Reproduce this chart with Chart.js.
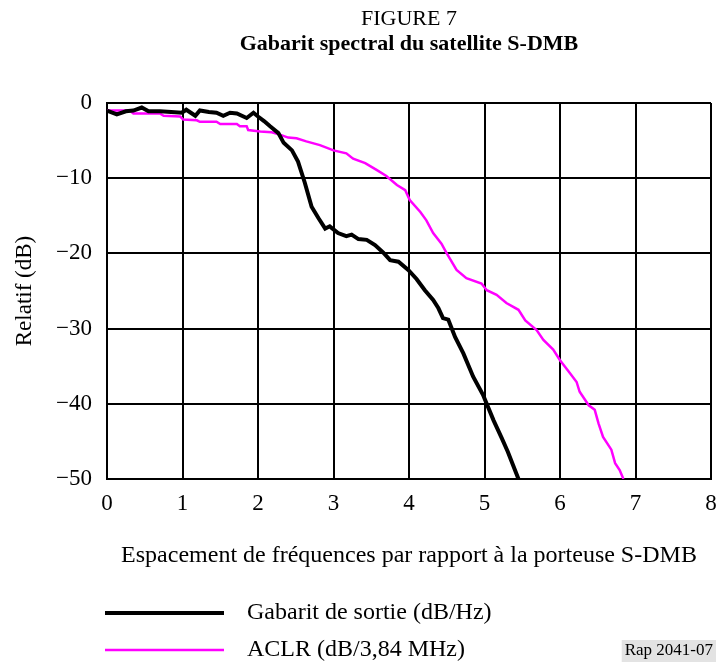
<!DOCTYPE html>
<html>
<head>
<meta charset="utf-8">
<script src="https://cdn.jsdelivr.net/npm/chart.js@4.4.1/dist/chart.umd.min.js"></script>
<style>
  html, body { margin: 0; padding: 0; background: #fff; }
  #wrap { width: 717px; height: 664px; }
</style>
</head>
<body>
<div id="wrap"><canvas id="maskChart" width="717" height="664"></canvas></div>
<script>
// frequency offsets (x) and relative levels (dB)
let gabaritFreq = [0, 0.13, 0.25, 0.35, 0.46, 0.55, 0.7, 0.85, 0.99, 1.05,
    1.17, 1.23, 1.35, 1.45, 1.54, 1.63, 1.72, 1.85, 1.94, 2.0,
    2.08, 2.16, 2.27, 2.34, 2.45, 2.53, 2.62, 2.71, 2.80, 2.89,
    2.95, 3.06, 3.17, 3.24, 3.33, 3.44, 3.55, 3.66, 3.75, 3.86,
    3.99, 4.10, 4.21, 4.32, 4.39, 4.45, 4.52, 4.61, 4.72, 4.85,
    4.98, 5.12, 5.23, 5.31, 5.45];
let gabaritLevel = [-1.0, -1.5, -1.1, -1.0, -0.6, -1.1, -1.1, -1.2, -1.3, -0.9,
    -1.7, -1.0, -1.2, -1.3, -1.7, -1.3, -1.4, -2.0, -1.3, -1.8,
    -2.4, -3.1, -4.0, -5.3, -6.3, -7.8, -10.6, -13.8, -15.3, -16.7,
    -16.4, -17.3, -17.7, -17.5, -18.1, -18.2, -18.9, -19.9, -20.9, -21.1,
    -22.2, -23.4, -24.9, -26.2, -27.3, -28.6, -28.8, -31.1, -33.3, -36.4,
    -38.8, -42.2, -44.6, -46.4, -50];

let aclrFreq = [0, 0.3, 0.35, 0.70, 0.75, 0.97, 1.01, 1.19, 1.23, 1.45,
    1.50, 1.72, 1.76, 1.85, 1.87, 2.03, 2.18, 2.29, 2.40, 2.51,
    2.64, 2.82, 3.00, 3.17, 3.26, 3.42, 3.57, 3.70, 3.84, 3.95,
    4.01, 4.15, 4.23, 4.32, 4.43, 4.50, 4.63, 4.76, 4.96, 5.03,
    5.16, 5.29, 5.45, 5.54, 5.69, 5.78, 5.91, 6.00, 6.13, 6.22,
    6.26, 6.38, 6.46, 6.51, 6.57, 6.68, 6.73, 6.79, 6.84];
let aclrLevel = [-1.0, -1.0, -1.4, -1.4, -1.7, -1.8, -2.2, -2.3, -2.5, -2.5,
    -2.8, -2.8, -3.1, -3.1, -3.6, -3.8, -3.9, -4.2, -4.6, -4.7,
    -5.1, -5.6, -6.3, -6.7, -7.4, -8.0, -8.9, -9.7, -10.9, -11.6,
    -12.9, -14.5, -15.6, -17.3, -18.7, -20.0, -22.2, -23.3, -24.0, -24.9,
    -25.5, -26.6, -27.5, -28.9, -30.2, -31.5, -32.8, -34.2, -35.9, -37.1,
    -38.4, -40.2, -40.8, -42.6, -44.4, -46.1, -47.9, -48.8, -50];

let seriesLabels = ['Gabarit de sortie (dB/Hz)', 'ACLR (dB/3,84 MHz)'];
let xTicks = [0, 1, 2, 3, 4, 5, 6, 7, 8];
let yTicks = [0, -10, -20, -30, -40, -50];

let serif = "'Liberation Serif', 'Times New Roman', serif";

function toPoints(xs, ys) {
    let pts = [];
    for (let i = 0; i < xs.length; i++) {
        pts.push({ x: xs[i], y: ys[i] });
    }
    return pts;
}

// titles, legend and reference tag drawn around the plot
let decorPlugin = {
    id: 'decor',
    afterDraw(chart) {
        let c = chart.ctx;
        let area = chart.chartArea;
        let mid = (area.left + area.right) / 2;
        c.save();
        c.fillStyle = '#000';
        c.textAlign = 'center';
        c.textBaseline = 'middle';
        c.font = '22px ' + serif;
        c.fillText('FIGURE 7', mid, 19);
        c.font = 'bold 22px ' + serif;
        c.fillText('Gabarit spectral du satellite S-DMB', mid, 44);

        let rows = [613, 650];
        chart.data.datasets.forEach(function(ds, i) {
            c.strokeStyle = ds.borderColor;
            c.lineWidth = ds.borderWidth;
            c.beginPath();
            c.moveTo(105, rows[i]);
            c.lineTo(224, rows[i]);
            c.stroke();
            c.textAlign = 'left';
            c.font = '24px ' + serif;
            c.fillStyle = '#000';
            c.fillText(ds.label, 247, rows[i]);
        });

        c.font = '17px ' + serif;
        let tag = 'Rap 2041-07';
        let w = c.measureText(tag).width;
        c.fillStyle = '#e3e3e3';
        c.fillRect(716 - w - 6, 640, w + 6, 22);
        c.fillStyle = '#000';
        c.textAlign = 'right';
        c.fillText(tag, 713, 651);
        c.restore();
    }
};

let ctx = document.getElementById('maskChart').getContext('2d');
let maskChart = new Chart(ctx, {
    type: 'line',
    data: {
        datasets: [
            {
                label: seriesLabels[0],
                data: toPoints(gabaritFreq, gabaritLevel),
                borderColor: '#000000',
                borderWidth: 4,
                pointRadius: 0,
                tension: 0,
                order: 1
            },
            {
                label: seriesLabels[1],
                data: toPoints(aclrFreq, aclrLevel),
                borderColor: '#ff00ff',
                borderWidth: 2.5,
                pointRadius: 0,
                tension: 0,
                order: 2
            }
        ]
    },
    options: {
        responsive: false,
        animation: false,
        layout: { padding: { top: 103, left: 0, right: 6, bottom: 85 } },
        plugins: {
            legend: { display: false },
            tooltip: { enabled: false }
        },
        scales: {
            x: {
                type: 'linear',
                min: 0,
                max: 8,
                afterBuildTicks: function(scale) {
                    scale.ticks = xTicks.map(v => ({ value: v }));
                },
                afterFit: function(scale) {
                    scale.height = 100;
                    scale.paddingLeft = 0;
                    scale.paddingRight = 0;
                },
                grid: { color: '#000', lineWidth: 2, drawTicks: false },
                border: { color: '#000', width: 2 },
                ticks: {
                    color: '#000',
                    padding: 11,
                    maxRotation: 0,
                    font: { family: serif, size: 23 }
                },
                title: {
                    display: true,
                    text: 'Espacement de fréquences par rapport à la porteuse S-DMB',
                    color: '#000',
                    font: { family: serif, size: 24 },
                    padding: { top: 0, bottom: 9 }
                }
            },
            y: {
                min: -50,
                max: 0,
                afterBuildTicks: function(scale) {
                    scale.ticks = yTicks.map(v => ({ value: v }));
                },
                afterFit: function(scale) { scale.width = 107; },
                grid: { color: '#000', lineWidth: 2, drawTicks: false },
                border: { color: '#000', width: 2 },
                ticks: {
                    color: '#000',
                    padding: 15,
                    font: { family: serif, size: 23 },
                    callback: function(value) {
                        return value < 0 ? '\u2212' + Math.abs(value) : String(value);
                    }
                },
                title: {
                    display: true,
                    text: 'Relatif (dB)',
                    color: '#000',
                    font: { family: serif, size: 23 },
                    padding: { top: 11, bottom: 0 }
                }
            }
        }
    },
    plugins: [decorPlugin]
});
</script>
</body>
</html>
